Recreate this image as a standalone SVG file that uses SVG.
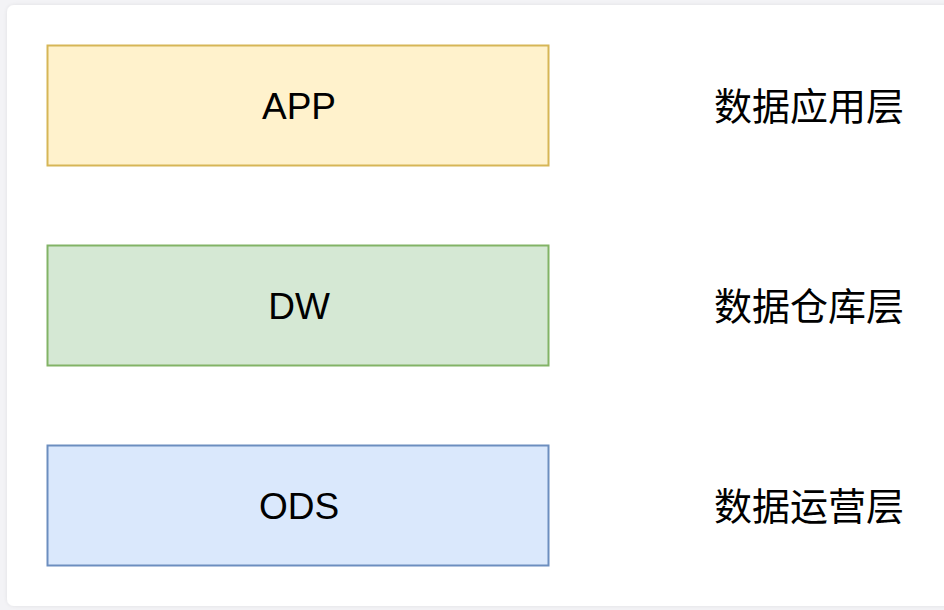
<svg xmlns="http://www.w3.org/2000/svg" width="944" height="610" viewBox="0 0 944 610">
<defs>
<filter id="sh" x="-5%" y="-5%" width="110%" height="110%">
<feGaussianBlur in="SourceAlpha" stdDeviation="2"/>
<feComponentTransfer><feFuncA type="linear" slope="0.08"/></feComponentTransfer>
<feMerge><feMergeNode/><feMergeNode in="SourceGraphic"/></feMerge>
</filter>
</defs>
<style>
.box{stroke-width:2}
.lbl{font-family:"Liberation Sans",Arial,sans-serif;font-size:37px;fill:#000;text-anchor:middle}
.side{font-family:"Noto Sans CJK SC","Noto Sans CJK JP",sans-serif;font-size:38px;fill:#000}
</style>
<rect x="0" y="0" width="944" height="610" fill="#f3f3f6"/>
<rect x="7" y="5" width="950" height="601" rx="7" fill="#ffffff" filter="url(#sh)"/>
<g id="connectors"/>
<g id="app">
<rect class="box" x="47.5" y="45.5" width="501" height="120" fill="#fff2cc" stroke="#d6b656"/>
<text class="lbl" x="299" y="119">APP</text>
</g>
<g id="dw">
<rect class="box" x="47.5" y="245.5" width="501" height="120" fill="#d5e8d4" stroke="#82b366"/>
<text class="lbl" x="299" y="319">DW</text>
</g>
<g id="ods">
<rect class="box" x="47.5" y="445.5" width="501" height="120" fill="#dae8fc" stroke="#6c8ebf"/>
<text class="lbl" x="299" y="519">ODS</text>
</g>
<g id="label-app"><text class="side" x="714" y="120">数据应用层</text></g>
<g id="label-dw"><text class="side" x="714" y="320">数据仓库层</text></g>
<g id="label-ods"><text class="side" x="714" y="520">数据运营层</text></g>
</svg>
